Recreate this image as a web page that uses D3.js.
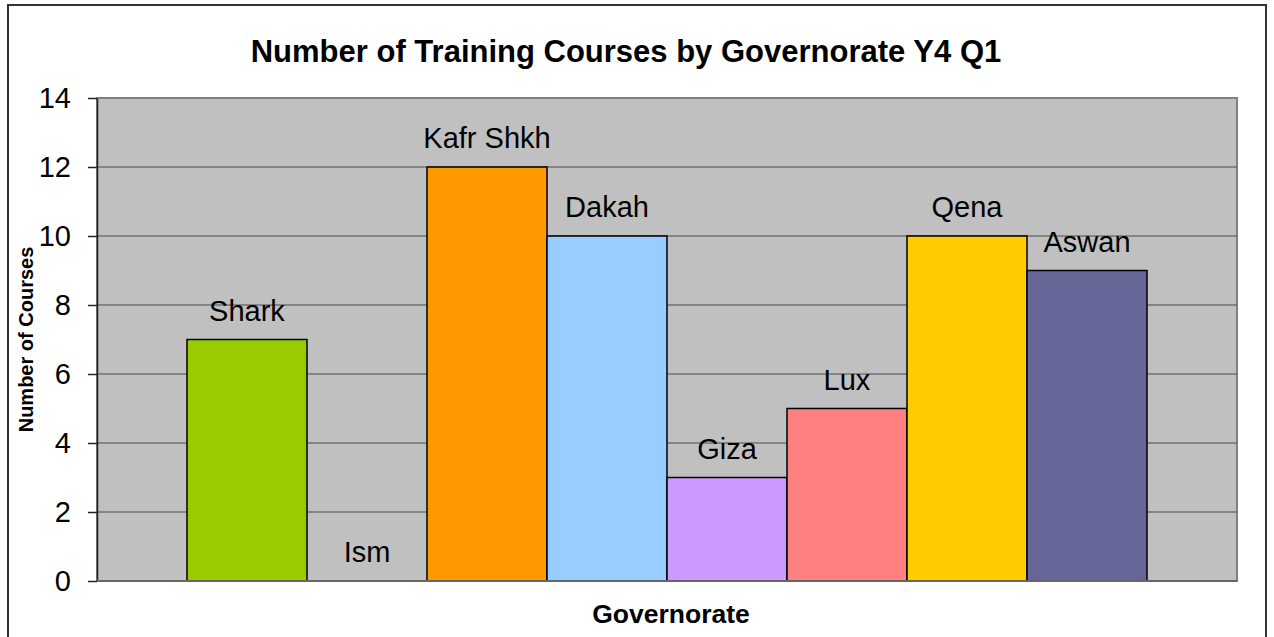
<!DOCTYPE html>
<html>
<head>
<meta charset="utf-8">
<script src="https://cdn.jsdelivr.net/npm/d3@7"></script>
<style>
  body { margin: 0; background: #fff; }
  svg { display: block; font-family: "Liberation Sans", Arial, sans-serif; }
</style>
</head>
<body>
<div id="chart"></div>
<script>
// data
const governorates = ['Shark', 'Ism', 'Kafr Shkh', 'Dakah', 'Giza', 'Lux', 'Qena', 'Aswan'];
const courses = [7, 0, 12, 10, 3, 5, 10, 9];
const barColors = ['#99CC00', '#339966', '#FF9900', '#99CCFF', '#CC99FF', '#FF8080', '#FFCC00', '#666699'];
const yTicks = [0, 2, 4, 6, 8, 10, 12, 14];

const width = 1274;
const height = 637;
const plot = { left: 97, top: 98, right: 1237, bottom: 581 };

const svg = d3.select('#chart')
    .append('svg')
    .attr('width', width)
    .attr('height', height);

// outer chart border (bottom edge runs off the picture)
svg.append('rect')
    .attr('x', 8).attr('y', 5)
    .attr('width', 1258).attr('height', 660)
    .style('fill', '#fff')
    .style('stroke', '#333')
    .style('stroke-width', 2);

const x = d3.scaleBand()
    .domain(governorates)
    .range([plot.left, plot.right])
    .paddingInner(0)
    .paddingOuter(0.75);

const y = d3.scaleLinear()
    .domain([0, 14])
    .range([plot.bottom, plot.top]);

// plot area
svg.append('rect')
    .attr('x', plot.left).attr('y', plot.top)
    .attr('width', plot.right - plot.left)
    .attr('height', plot.bottom - plot.top)
    .style('fill', '#C0C0C0')
    .style('stroke', '#808080')
    .style('stroke-width', 2);

// gridlines
svg.append('g')
    .selectAll('line')
    .data(yTicks.filter(d => d > 0 && d < 14))
    .enter()
    .append('line')
    .attr('x1', plot.left)
    .attr('x2', plot.right)
    .attr('y1', d => y(d))
    .attr('y2', d => y(d))
    .style('stroke', '#4a4a4a')
    .style('stroke-width', 1);

// y axis
const yAxis = svg.append('g')
    .attr('transform', `translate(${plot.left},0)`)
    .call(d3.axisLeft(y).tickValues(yTicks).tickSize(9).tickPadding(17).tickSizeOuter(0));
yAxis.select('.domain').style('stroke', '#222').style('stroke-width', 1.5);
yAxis.selectAll('.tick line').style('stroke', '#222').style('stroke-width', 1.5);
yAxis.selectAll('.tick text')
    .style('font-size', '29px')
    .style('font-family', '"Liberation Sans", Arial, sans-serif')
    .style('fill', '#000');

// bars
svg.append('g')
    .selectAll('rect')
    .data(governorates.map((g, i) => ({ name: g, value: courses[i], color: barColors[i] })))
    .enter()
    .filter(d => d.value > 0)
    .append('rect')
    .attr('x', d => x(d.name))
    .attr('y', d => y(d.value))
    .attr('width', x.bandwidth())
    .attr('height', d => y(0) - y(d.value))
    .style('fill', d => d.color)
    .style('stroke', '#000')
    .style('stroke-width', 1.5);

// category axis line
svg.append('line')
    .attr('x1', plot.left).attr('x2', plot.right)
    .attr('y1', y(0)).attr('y2', y(0))
    .style('stroke', '#666')
    .style('stroke-width', 2);

// labels over bars
svg.append('g')
    .selectAll('text')
    .data(governorates.map((g, i) => ({ name: g, value: courses[i] })))
    .enter()
    .append('text')
    .attr('x', d => x(d.name) + x.bandwidth() / 2)
    .attr('y', d => y(d.value) - 19)
    .attr('text-anchor', 'middle')
    .style('font-size', '29px')
    .style('fill', '#000')
    .text(d => d.name);

// title
svg.append('text')
    .attr('x', 626)
    .attr('y', 62)
    .attr('text-anchor', 'middle')
    .style('font-size', '31px')
    .style('font-weight', 'bold')
    .text('Number of Training Courses by Governorate Y4 Q1');

// axis titles
svg.append('text')
    .attr('x', 671)
    .attr('y', 623)
    .attr('text-anchor', 'middle')
    .style('font-size', '26.5px')
    .style('font-weight', 'bold')
    .text('Governorate');

svg.append('text')
    .attr('transform', `translate(33, ${(plot.top + plot.bottom) / 2}) rotate(-90)`)
    .attr('text-anchor', 'middle')
    .style('font-size', '20px')
    .style('font-weight', 'bold')
    .text('Number of Courses');
</script>
</body>
</html>
